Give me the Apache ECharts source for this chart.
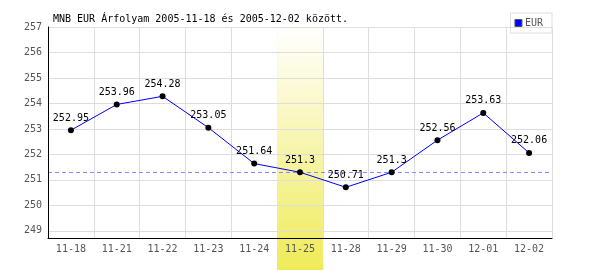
<!DOCTYPE html>
<html>
<head>
<meta charset="utf-8">
<script src="https://cdn.jsdelivr.net/npm/echarts@6/dist/echarts.min.js"></script>
<style>html,body{margin:0;padding:0;background:#fff}#c{width:600px;height:270px}</style>
</head>
<body>
<div id="c"></div>
<script>
const titleText = 'MNB EUR Árfolyam 2005-11-18 és 2005-12-02 között.';
const seriesName = 'EUR';
const categories = ['11-18','11-21','11-22','11-23','11-24','11-25','11-28','11-29','11-30','12-01','12-02'];
const rates = [252.95, 253.96, 254.28, 253.05, 251.64, 251.3, 250.71, 251.3, 252.56, 253.63, 252.06];
const highlightDay = '11-25';
const referenceRate = 251.3;
const yMin = 248.72, yMax = 257;

const FONT = '"DejaVu Sans Mono", monospace';
const chart = echarts.init(document.getElementById('c'), null, {renderer: 'canvas'});
const bandData = categories.map(c => c === highlightDay ? 1 : null);

chart.setOption({
  animation: false,
  backgroundColor: '#ffffff',
  title: {
    text: titleText, left: 48, top: 9,
    textStyle: {fontFamily: FONT, fontSize: 10, fontWeight: 'normal', color: '#000'}
  },
  legend: {
    right: 48, top: 13, orient: 'vertical',
    data: [{name: seriesName, icon: 'rect', itemStyle: {color: '#0000ff', borderColor: '#555', borderWidth: 1}}],
    itemWidth: 7, itemHeight: 7, itemGap: 2,
    padding: [5, 9, 5, 4],
    borderColor: '#dddddd', borderWidth: 1,
    textStyle: {fontFamily: FONT, fontSize: 10, color: '#555', padding: [0, 0, 0, -2]}
  },
  grid: [
    {left: 48, right: 48, top: 27, bottom: 32},
    {left: 48, right: 48, top: 27, bottom: 0}
  ],
  xAxis: [
    {
      type: 'category', data: categories, gridIndex: 0, boundaryGap: true, z: 10,
      axisLine: {show: true, lineStyle: {color: '#000', width: 1}},
      axisTick: {show: false},
      axisLabel: {fontFamily: FONT, fontSize: 10, color: '#555', margin: 6},
      splitLine: {show: false}
    },
    {
      type: 'category', data: categories, gridIndex: 0, boundaryGap: true, z: 0,
      axisLine: {show: false}, axisTick: {show: false}, axisLabel: {show: false},
      splitLine: {show: true, lineStyle: {color: '#dddddd', width: 1}}
    },
    {
      type: 'category', data: categories, gridIndex: 1, show: false, boundaryGap: true
    }
  ],
  yAxis: [
    {
      type: 'value', gridIndex: 0, min: yMin, max: yMax, splitNumber: 8,
      minInterval: 1, maxInterval: 1, z: 10,
      axisLine: {show: true, lineStyle: {color: '#000', width: 1}},
      axisTick: {show: false},
      axisLabel: {fontFamily: FONT, fontSize: 10, color: '#555', margin: 6, showMinLabel: false},
      splitLine: {show: true, lineStyle: {color: '#dddddd', width: 1}}
    },
    {
      type: 'value', gridIndex: 1, min: 0, max: 1, show: false, splitLine: {show: false}
    }
  ],
  series: [
    {
      type: 'bar', xAxisIndex: 2, yAxisIndex: 1, data: bandData,
      barWidth: '100%', z: 1, silent: true,
      itemStyle: {
        color: new echarts.graphic.LinearGradient(0, 0, 0, 1, [
          {offset: 0, color: '#ffffff'},
          {offset: 1, color: '#efeb58'}
        ])
      }
    },
    {
      name: seriesName, type: 'line', xAxisIndex: 0, yAxisIndex: 0, data: rates, z: 20,
      symbol: 'circle', symbolSize: 6,
      lineStyle: {color: '#0000ff', width: 1},
      itemStyle: {color: '#000000'},
      label: {show: true, position: 'top', distance: 4, fontFamily: FONT, fontSize: 10, color: '#000'},
      markLine: {
        silent: true, symbol: 'none', label: {show: false},
        lineStyle: {color: '#8888ff', type: [4, 3], width: 1},
        data: [{yAxis: referenceRate}]
      }
    }
  ]
});
</script>
</body>
</html>
